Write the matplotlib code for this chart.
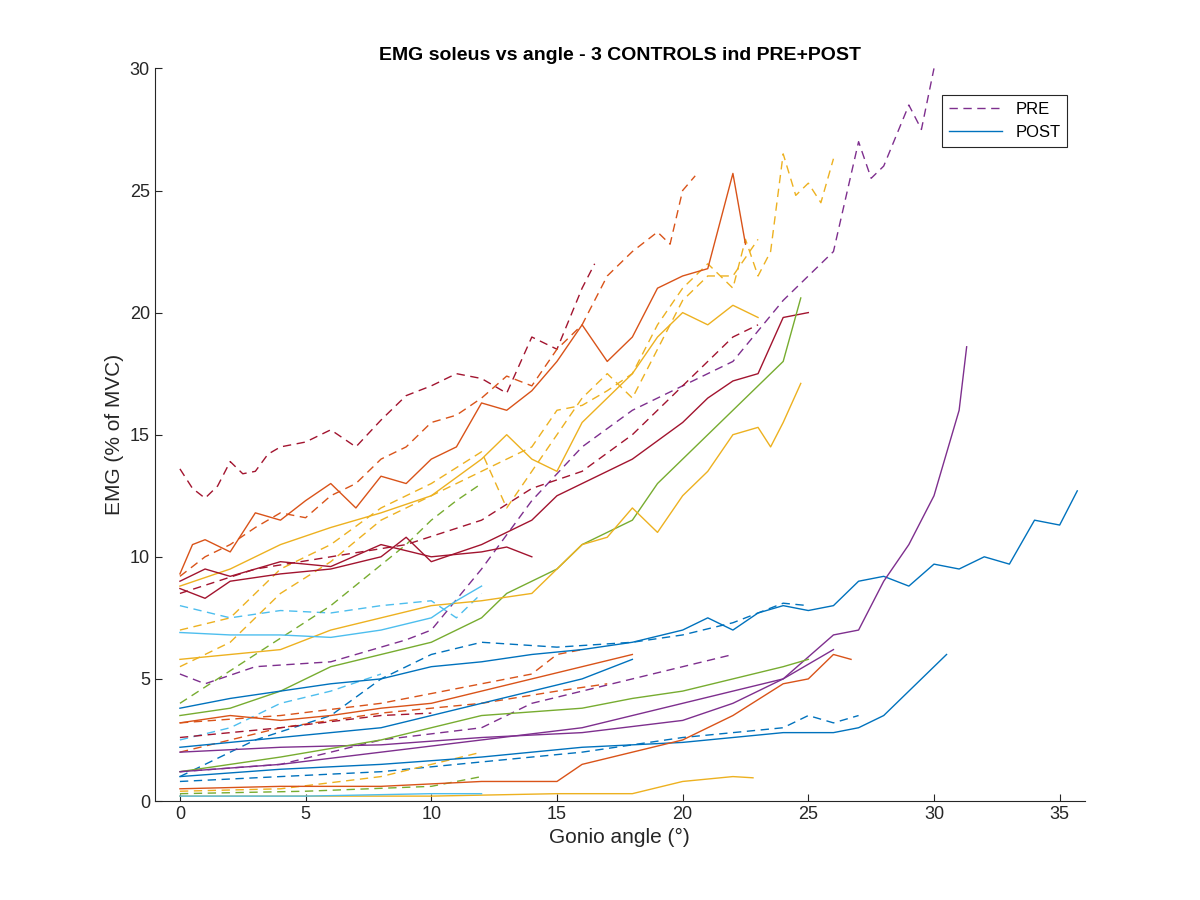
import matplotlib.pyplot as plt

# MATLAB default colour order
BLUE = "#0072BD"
ORANGE = "#D95319"
YELLOW = "#EDB120"
PURPLE = "#7E2F8E"
GREEN = "#77AC30"
CYAN = "#4DBEEE"
DARKRED = "#A2142F"

# PRE curves (dashed): angle values, EMG values
pre_darkred_top_x = [0, 0.5, 1, 1.5, 2, 2.5, 3, 3.5, 4, 5, 6, 7, 8, 9, 10, 11, 12, 13, 14, 15, 16, 16.5]
pre_darkred_top_y = [13.6, 12.8, 12.4, 12.9, 13.9, 13.4, 13.5, 14.2, 14.5, 14.7, 15.2, 14.5, 15.6, 16.6, 17.0, 17.5, 17.3, 16.7, 19.0, 18.5, 21.0, 22.0]
pre_orange_top_x = [0, 1, 2, 3, 4, 5, 6, 7, 8, 9, 10, 11, 12, 13, 14, 15, 16, 17, 18, 19, 19.5, 20, 20.5]
pre_orange_top_y = [9.2, 10.0, 10.5, 11.2, 11.8, 11.6, 12.5, 13.0, 14.0, 14.5, 15.5, 15.8, 16.5, 17.4, 17.0, 18.5, 19.5, 21.5, 22.5, 23.3, 22.8, 25.0, 25.6]
pre_yellow_long_x = [0, 2, 4, 6, 8, 10, 12, 14, 15, 16, 17, 18, 19, 20, 21, 22, 22.5, 23, 23.5, 24, 24.5, 25, 25.5, 26]
pre_yellow_long_y = [5.5, 6.5, 8.5, 9.8, 11.5, 12.5, 13.5, 14.5, 16.0, 16.2, 16.8, 17.5, 19.5, 21.0, 22.0, 21.0, 23.0, 21.5, 22.5, 26.5, 24.8, 25.3, 24.5, 26.3]
pre_yellow_mid_x = [0, 2, 4, 6, 8, 10, 12, 13, 14, 15, 16, 17, 18, 19, 20, 21, 22, 23]
pre_yellow_mid_y = [7.0, 7.5, 9.5, 10.5, 12.0, 13.0, 14.3, 12.0, 13.5, 15.0, 16.5, 17.5, 16.5, 18.5, 20.5, 21.5, 21.5, 23.0]
pre_purple_long_x = [0, 1, 3, 6, 9, 10, 12, 14, 16, 18, 20, 22, 24, 25, 26, 27, 27.5, 28, 29, 29.5, 30]
pre_purple_long_y = [5.2, 4.8, 5.5, 5.7, 6.6, 7.0, 9.5, 12.3, 14.5, 16.0, 17.0, 18.0, 20.5, 21.5, 22.5, 27.0, 25.5, 26.0, 28.5, 27.5, 30.0]
pre_darkred_mid_x = [0, 3, 6, 9, 12, 14, 16, 18, 20, 21, 22, 23]
pre_darkred_mid_y = [8.5, 9.5, 10.0, 10.5, 11.5, 12.8, 13.5, 15.0, 17.0, 18.0, 19.0, 19.5]
pre_cyan_x = [0, 2, 4, 6, 8, 10, 11, 12]
pre_cyan_y = [8.0, 7.5, 7.8, 7.7, 8.0, 8.2, 7.5, 8.5]
pre_green_x = [0, 3, 6, 9, 10, 11, 12]
pre_green_y = [4.0, 6.0, 8.0, 10.5, 11.5, 12.3, 13.0]
pre_blue_mid_x = [0, 3, 6, 8, 10, 12, 15, 18, 20, 22, 24, 25]
pre_blue_mid_y = [1.0, 2.5, 3.5, 5.0, 6.0, 6.5, 6.3, 6.5, 6.8, 7.3, 8.1, 8.0]
pre_blue_low_x = [0, 4, 8, 12, 16, 20, 24, 25, 26, 27]
pre_blue_low_y = [0.8, 1.0, 1.2, 1.6, 2.0, 2.6, 3.0, 3.5, 3.2, 3.5]
pre_orange_low_x = [0, 4, 8, 12, 14, 15, 16]
pre_orange_low_y = [3.2, 3.5, 4.0, 4.8, 5.2, 6.0, 6.2]
pre_purple_low_x = [0, 4, 8, 12, 14, 16, 18, 20, 22]
pre_purple_low_y = [1.2, 1.5, 2.5, 3.0, 4.0, 4.5, 5.0, 5.5, 6.0]
pre_yellow_low_x = [0, 4, 8, 10, 12]
pre_yellow_low_y = [0.4, 0.5, 1.0, 1.5, 2.0]
pre_cyan_low_x = [0, 2, 4, 6, 8]
pre_cyan_low_y = [2.5, 3.0, 4.0, 4.5, 5.2]
pre_orange_mid_x = [0, 4, 8, 12, 15, 17]
pre_orange_mid_y = [2.0, 3.0, 3.6, 4.0, 4.5, 4.8]
pre_green_low_x = [0, 5, 10, 12]
pre_green_low_y = [0.3, 0.4, 0.6, 1.0]
pre_darkred_low_x = [0, 4, 8, 10]
pre_darkred_low_y = [2.6, 3.0, 3.5, 3.6]

# POST curves (solid)
post_orange_top_x = [0, 0.5, 1, 2, 3, 4, 5, 6, 7, 8, 9, 10, 11, 12, 13, 14, 15, 16, 17, 18, 19, 20, 21, 22, 22.5]
post_orange_top_y = [9.3, 10.5, 10.7, 10.2, 11.8, 11.5, 12.3, 13.0, 12.0, 13.3, 13.0, 14.0, 14.5, 16.3, 16.0, 16.8, 18.0, 19.5, 18.0, 19.0, 21.0, 21.5, 21.8, 25.7, 22.8]
post_yellow_top_x = [0, 2, 4, 6, 8, 10, 12, 13, 14, 15, 16, 17, 18, 19, 20, 21, 22, 23]
post_yellow_top_y = [8.8, 9.5, 10.5, 11.2, 11.8, 12.5, 14.0, 15.0, 14.0, 13.5, 15.5, 16.5, 17.5, 19.0, 20.0, 19.5, 20.3, 19.8]
post_darkred_x = [0, 1, 2, 4, 6, 8, 9, 10, 12, 14, 15, 16, 18, 20, 21, 22, 23, 24, 25]
post_darkred_y = [8.7, 8.3, 9.0, 9.3, 9.5, 10.0, 10.8, 9.8, 10.5, 11.5, 12.5, 13.0, 14.0, 15.5, 16.5, 17.2, 17.5, 19.8, 20.0]
post_darkred_short_x = [0, 1, 2, 4, 6, 8, 10, 12, 13, 14]
post_darkred_short_y = [9.0, 9.5, 9.2, 9.8, 9.6, 10.5, 10.0, 10.2, 10.4, 10.0]
post_green_x = [0, 2, 4, 6, 8, 10, 11, 12, 13, 14, 15, 16, 17, 18, 19, 20, 21, 22, 23, 24, 24.7]
post_green_y = [3.5, 3.8, 4.5, 5.5, 6.0, 6.5, 7.0, 7.5, 8.5, 9.0, 9.5, 10.5, 11.0, 11.5, 13.0, 14.0, 15.0, 16.0, 17.0, 18.0, 20.6]
post_yellow_mid_x = [0, 2, 4, 6, 8, 10, 12, 14, 15, 16, 17, 18, 19, 20, 21, 22, 23, 23.5, 24, 24.7]
post_yellow_mid_y = [5.8, 6.0, 6.2, 7.0, 7.5, 8.0, 8.2, 8.5, 9.5, 10.5, 10.8, 12.0, 11.0, 12.5, 13.5, 15.0, 15.3, 14.5, 15.5, 17.1]
post_cyan_x = [0, 2, 4, 6, 8, 10, 11, 12]
post_cyan_y = [6.9, 6.8, 6.8, 6.7, 7.0, 7.5, 8.2, 8.8]
post_blue_long_x = [0, 2, 4, 6, 8, 10, 12, 14, 16, 18, 20, 21, 22, 23, 24, 25, 26, 27, 28, 29, 30, 31, 32, 33, 34, 35, 35.7]
post_blue_long_y = [3.8, 4.2, 4.5, 4.8, 5.0, 5.5, 5.7, 6.0, 6.2, 6.5, 7.0, 7.5, 7.0, 7.7, 8.0, 7.8, 8.0, 9.0, 9.2, 8.8, 9.7, 9.5, 10.0, 9.7, 11.5, 11.3, 12.7]
post_purple_long_x = [0, 4, 8, 12, 16, 20, 22, 24, 26, 27, 28, 29, 30, 31, 31.3]
post_purple_long_y = [2.0, 2.2, 2.3, 2.6, 2.8, 3.3, 4.0, 5.0, 6.8, 7.0, 9.0, 10.5, 12.5, 16.0, 18.6]
post_blue_x = [0, 4, 8, 12, 16, 20, 24, 26, 27, 28, 29, 30, 30.5]
post_blue_y = [1.0, 1.3, 1.5, 1.8, 2.2, 2.4, 2.8, 2.8, 3.0, 3.5, 4.5, 5.5, 6.0]
post_orange_low_x = [0, 4, 8, 12, 15, 16, 18, 20, 22, 24, 25, 26, 26.7]
post_orange_low_y = [0.5, 0.6, 0.6, 0.8, 0.8, 1.5, 2.0, 2.5, 3.5, 4.8, 5.0, 6.0, 5.8]
post_yellow_low_x = [0, 5, 10, 15, 18, 20, 22, 22.8]
post_yellow_low_y = [0.2, 0.2, 0.2, 0.3, 0.3, 0.8, 1.0, 0.95]
post_green_low_x = [0, 4, 8, 12, 16, 18, 20, 22, 24, 25]
post_green_low_y = [1.2, 1.8, 2.5, 3.5, 3.8, 4.2, 4.5, 5.0, 5.5, 5.8]
post_purple_mid_x = [0, 4, 8, 12, 16, 18, 20, 22, 24, 26]
post_purple_mid_y = [1.2, 1.5, 2.0, 2.5, 3.0, 3.5, 4.0, 4.5, 5.0, 6.2]
post_orange_mid_x = [0, 2, 4, 6, 8, 10, 12, 14, 16, 18]
post_orange_mid_y = [3.2, 3.5, 3.3, 3.5, 3.8, 4.0, 4.5, 5.0, 5.5, 6.0]
post_blue_mid_x = [0, 4, 8, 12, 16, 18]
post_blue_mid_y = [2.2, 2.6, 3.0, 4.0, 5.0, 5.8]
post_cyan_low_x = [0, 5, 10, 12]
post_cyan_low_y = [0.2, 0.2, 0.3, 0.3]

pre_curves = [
    (DARKRED, pre_darkred_top_x, pre_darkred_top_y),
    (ORANGE, pre_orange_top_x, pre_orange_top_y),
    (YELLOW, pre_yellow_long_x, pre_yellow_long_y),
    (YELLOW, pre_yellow_mid_x, pre_yellow_mid_y),
    (PURPLE, pre_purple_long_x, pre_purple_long_y),
    (DARKRED, pre_darkred_mid_x, pre_darkred_mid_y),
    (CYAN, pre_cyan_x, pre_cyan_y),
    (GREEN, pre_green_x, pre_green_y),
    (BLUE, pre_blue_mid_x, pre_blue_mid_y),
    (BLUE, pre_blue_low_x, pre_blue_low_y),
    (ORANGE, pre_orange_low_x, pre_orange_low_y),
    (PURPLE, pre_purple_low_x, pre_purple_low_y),
    (YELLOW, pre_yellow_low_x, pre_yellow_low_y),
    (CYAN, pre_cyan_low_x, pre_cyan_low_y),
    (ORANGE, pre_orange_mid_x, pre_orange_mid_y),
    (GREEN, pre_green_low_x, pre_green_low_y),
    (DARKRED, pre_darkred_low_x, pre_darkred_low_y),
]
post_curves = [
    (ORANGE, post_orange_top_x, post_orange_top_y),
    (YELLOW, post_yellow_top_x, post_yellow_top_y),
    (DARKRED, post_darkred_x, post_darkred_y),
    (DARKRED, post_darkred_short_x, post_darkred_short_y),
    (GREEN, post_green_x, post_green_y),
    (YELLOW, post_yellow_mid_x, post_yellow_mid_y),
    (CYAN, post_cyan_x, post_cyan_y),
    (BLUE, post_blue_long_x, post_blue_long_y),
    (PURPLE, post_purple_long_x, post_purple_long_y),
    (BLUE, post_blue_x, post_blue_y),
    (ORANGE, post_orange_low_x, post_orange_low_y),
    (YELLOW, post_yellow_low_x, post_yellow_low_y),
    (GREEN, post_green_low_x, post_green_low_y),
    (PURPLE, post_purple_mid_x, post_purple_mid_y),
    (ORANGE, post_orange_mid_x, post_orange_mid_y),
    (BLUE, post_blue_mid_x, post_blue_mid_y),
    (CYAN, post_cyan_low_x, post_cyan_low_y),
]

plt.rcParams['font.family'] = ['Liberation Sans', 'DejaVu Sans']
fig = plt.figure(figsize=(12, 9), dpi=100)
ax = fig.add_axes([0.129, 0.11, 0.775, 0.814])

for color, x, y in pre_curves:
    ax.plot(x, y, color=color, linestyle=(0, (6, 4)), linewidth=1)
for color, x, y in post_curves:
    ax.plot(x, y, color=color, linestyle="-", linewidth=1)

# legend proxies
h_pre, = ax.plot([], [], color=PURPLE, linestyle=(0, (6, 4)), linewidth=1, label="PRE")
h_post, = ax.plot([], [], color=BLUE, linestyle="-", linewidth=1, label="POST")
leg = ax.legend(handles=[h_pre, h_post], loc="upper right", bbox_to_anchor=(0.99, 0.975),
                fancybox=False, edgecolor="#262626", fontsize=12, framealpha=1, handlelength=3.2)
leg.get_frame().set_linewidth(0.8)

ax.set_xlim(-1, 36)
ax.set_ylim(0, 30)
ax.set_xticks([0, 5, 10, 15, 20, 25, 30, 35])
ax.set_yticks([0, 5, 10, 15, 20, 25, 30])
ax.spines['top'].set_visible(False)
ax.spines['right'].set_visible(False)
for s in ax.spines.values():
    s.set_color("#262626")
ax.tick_params(direction="in", labelsize=13, colors="#262626", length=5)
ax.set_title("EMG soleus vs angle - 3 CONTROLS ind PRE+POST", fontsize=14, fontweight="bold", color="black")
ax.set_xlabel("Gonio angle (°)", fontsize=15, color="#262626")
ax.set_ylabel("EMG (% of MVC)", fontsize=15, color="#262626")

fig.savefig("out.png", dpi=100)
